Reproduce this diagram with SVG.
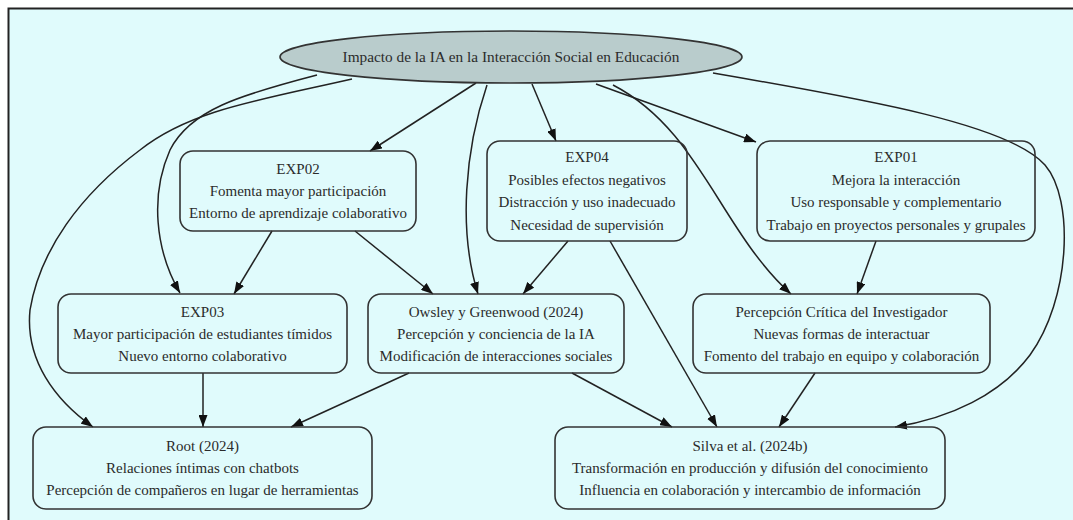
<svg xmlns="http://www.w3.org/2000/svg" width="1073" height="520" viewBox="0 0 1073 520">
  <defs>
    <marker id="arrow" viewBox="0 0 12 9" refX="12" refY="4.5" markerWidth="12" markerHeight="9" markerUnits="userSpaceOnUse" orient="auto">
      <path d="M0,0 L12,4.5 L0,9 Z" fill="#111"/>
    </marker>
    <style>
      .node rect { fill: none; stroke: #333; stroke-width: 1.6; }
      .node ellipse { fill: #b9cccc; stroke: #333; stroke-width: 1.6; }
      .node text { font-family: "Liberation Serif", "Times New Roman", serif; font-size: 15px; fill: #2b2b2b; text-anchor: middle; }
      #root text { font-size: 15.3px; }
      #edges path { fill: none; stroke: #222; stroke-width: 1.5; marker-end: url(#arrow); }
    </style>
  </defs>

  <!-- page and frame -->
  <rect x="0" y="0" width="1073" height="520" fill="#ffffff"/>
  <rect x="8.5" y="8.5" width="1080" height="530" fill="#e0fbfc" stroke="#222" stroke-width="2"/>

  <!-- connectors -->
  <g id="edges">
    <path d="M476,83 L370,151"/>
    <path d="M532,84 L556,141"/>
    <path d="M596,84 L756,142"/>
    <path d="M613,85 C700,130 720,230 791,294"/>
    <path d="M487,85 C465,150 458,230 478,294"/>
    <path d="M317,75 C240,95 190,110 170,150 C150,195 155,250 180,293"/>
    <path d="M352,79 C260,100 190,110 140,150 C80,195 40,250 30,310 C25,360 55,400 93,427"/>
    <path d="M713,73 C870,100 1010,125 1045,165 C1075,200 1070,300 1030,355 C1000,395 950,418 895,427"/>
    <path d="M272,231 L234,294"/>
    <path d="M355,231 L433,294"/>
    <path d="M568,241 L523,294"/>
    <path d="M610,241 L717,427"/>
    <path d="M876,241 L857,294"/>
    <path d="M203,373 L203,427"/>
    <path d="M409,373 L291,427"/>
    <path d="M572,373 L672,427"/>
    <path d="M815,373 L779,427"/>
  </g>

  <!-- nodes -->
  <g id="root" class="node">
    <ellipse cx="511" cy="57" rx="231" ry="26"/>
    <text x="511" y="62">Impacto de la IA en la Interacción Social en Educación</text>
  </g>

  <g id="exp02" class="node">
    <rect x="180" y="151" width="236" height="80" rx="13"/>
    <text x="298" y="174">EXP02</text>
    <text x="298" y="196">Fomenta mayor participación</text>
    <text x="298" y="218">Entorno de aprendizaje colaborativo</text>
  </g>

  <g id="exp04" class="node">
    <rect x="487" y="141" width="200" height="100" rx="13"/>
    <text x="587" y="162">EXP04</text>
    <text x="587" y="184.5">Posibles efectos negativos</text>
    <text x="587" y="207">Distracción y uso inadecuado</text>
    <text x="587" y="229.5">Necesidad de supervisión</text>
  </g>

  <g id="exp01" class="node">
    <rect x="757" y="141" width="278" height="100" rx="13"/>
    <text x="896" y="162">EXP01</text>
    <text x="896" y="184.5">Mejora la interacción</text>
    <text x="896" y="207">Uso responsable y complementario</text>
    <text x="896" y="229.5">Trabajo en proyectos personales y grupales</text>
  </g>

  <g id="exp03" class="node">
    <rect x="58" y="294" width="289" height="79" rx="13"/>
    <text x="202.5" y="317">EXP03</text>
    <text x="202.5" y="339">Mayor participación de estudiantes tímidos</text>
    <text x="202.5" y="361">Nuevo entorno colaborativo</text>
  </g>

  <g id="owsley" class="node">
    <rect x="368" y="294" width="256" height="79" rx="13"/>
    <text x="496" y="317">Owsley y Greenwood (2024)</text>
    <text x="496" y="339">Percepción y conciencia de la IA</text>
    <text x="496" y="361">Modificación de interacciones sociales</text>
  </g>

  <g id="percepcion" class="node">
    <rect x="693" y="294" width="297" height="79" rx="13"/>
    <text x="841.5" y="317">Percepción Crítica del Investigador</text>
    <text x="841.5" y="339">Nuevas formas de interactuar</text>
    <text x="841.5" y="361">Fomento del trabajo en equipo y colaboración</text>
  </g>

  <g id="root2024" class="node">
    <rect x="33" y="427" width="339" height="82" rx="13"/>
    <text x="202.5" y="451">Root (2024)</text>
    <text x="202.5" y="473">Relaciones íntimas con chatbots</text>
    <text x="202.5" y="495">Percepción de compañeros en lugar de herramientas</text>
  </g>

  <g id="silva" class="node">
    <rect x="555" y="427" width="390" height="82" rx="13"/>
    <text x="750" y="451">Silva et al. (2024b)</text>
    <text x="750" y="473">Transformación en producción y difusión del conocimiento</text>
    <text x="750" y="495">Influencia en colaboración y intercambio de información</text>
  </g>
</svg>
